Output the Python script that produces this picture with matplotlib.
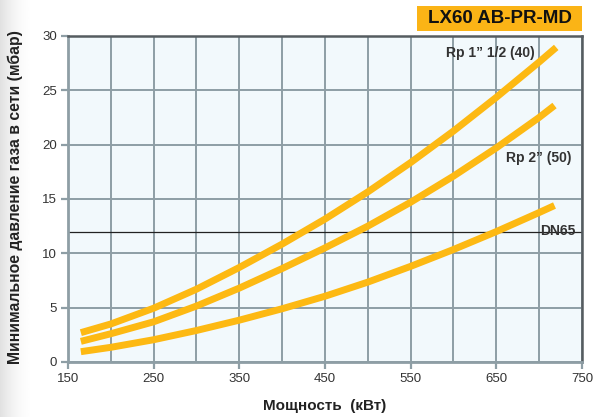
import numpy as np
import matplotlib.pyplot as plt
from matplotlib.patches import Rectangle

# Данные
power_40 = [165, 200, 250, 300, 350, 400, 450, 500, 550, 600, 650, 700, 720]
press_40 = [2.7, 3.5, 4.95, 6.7, 8.7, 10.85, 13.15, 15.65, 18.35, 21.25, 24.35, 27.6, 28.95]

power_50 = [165, 200, 250, 300, 350, 400, 450, 500, 550, 600, 650, 700, 718]
press_50 = [1.9, 2.6, 3.7, 5.15, 6.8, 8.6, 10.5, 12.5, 14.7, 17.1, 19.7, 22.5, 23.6]

power_65 = [165, 200, 250, 300, 350, 400, 450, 500, 550, 600, 650, 700, 718]
press_65 = [0.95, 1.35, 2.05, 2.9, 3.85, 4.9, 6.05, 7.35, 8.8, 10.35, 12.0, 13.75, 14.4]

series_labels = ["Rp 1\u201d 1/2 (40)", "Rp 2\u201d (50)", "DN65"]
label_pos = [(695, 28.4), (738, 18.8), (743, 12.1)]
ref_line = 12

x_ticks = [150, 250, 350, 450, 550, 650, 750]
y_ticks = [0, 5, 10, 15, 20, 25, 30]

plt.rcParams["font.family"] = ["Liberation Sans", "DejaVu Sans"]

fig = plt.figure(figsize=(5.95, 4.17), dpi=100)

# лёгкий серый градиент у левого края
bg = fig.add_axes([0, 0, 0.06, 1], zorder=-10)
t = np.linspace(0, 1, 128)
grad = (1.0 - 0.12 * (1 - t) ** 2).reshape(1, -1)
bg.imshow(grad, aspect="auto", cmap="gray", vmin=0, vmax=1, extent=[0, 1, 0, 1])
bg.axis("off")

ax = fig.add_axes([0.1143, 0.1319, 0.978 - 0.1143, 0.9137 - 0.1319])
ax.set_facecolor("#f2f9fc")

grid_col = "#8e9ea5"
line_col = "#fdb913"

ax.set_xlim(150, 750)
ax.set_ylim(0, 30)
ax.set_xticks(x_ticks)
ax.set_xticks(np.arange(200, 750, 100), minor=True)
ax.set_yticks(y_ticks)
ax.grid(True, which="both", color=grid_col, linewidth=1.4)
ax.set_axisbelow(True)
ax.tick_params(which="minor", length=0)
ax.tick_params(which="major", length=5, width=1.6, color=grid_col,
               labelsize=9.5, labelcolor="#333333", pad=3)

for side in ["left", "bottom"]:
    ax.spines[side].set_color(grid_col)
    ax.spines[side].set_linewidth(2)
for side in ["top", "right"]:
    ax.spines[side].set_color("#555c60")
    ax.spines[side].set_linewidth(1.8)

ax.axhline(ref_line, color="#222222", linewidth=0.9, zorder=2)

for xs, ys in [(power_40, press_40), (power_50, press_50), (power_65, press_65)]:
    ax.plot(xs, ys, color=line_col, linewidth=5, solid_capstyle="butt", zorder=3)

for text, (tx, ty) in zip(series_labels, label_pos):
    ax.text(tx, ty, text, ha="right", va="center", fontsize=10,
            fontweight="bold", color="#333333", zorder=4)

ax.set_xlabel("Мощность  (кВт)", fontsize=11, fontweight="bold", color="#222222")
ax.set_ylabel("Минимальное давление газа в сети (мбар)", fontsize=11.3,
              fontweight="bold", color="#222222")
ax.xaxis.set_label_coords(0.5, -0.115)
ax.yaxis.set_label_coords(-0.087, 0.505)

# плашка с названием модели
fig.patches.append(Rectangle((0.7008, 0.9257), 0.978 - 0.7008, 0.9856 - 0.9257,
                             transform=fig.transFigure, facecolor="#fbb416",
                             edgecolor="none"))
fig.text(0.8395, 0.9556, "LX60 AB-PR-MD", ha="center", va="center", fontsize=13.5,
         fontweight="bold", color="#111111")

fig.savefig("out.png", dpi=100)
